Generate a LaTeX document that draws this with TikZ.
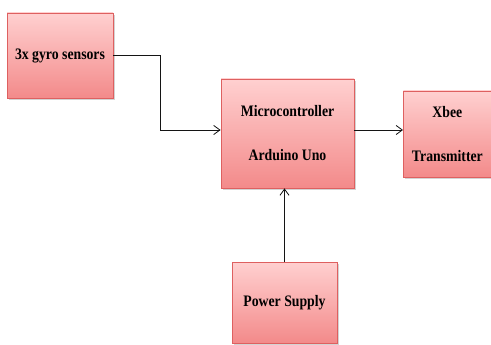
\documentclass[tikz,border=0pt]{standalone}
\usepackage{fontspec}
\setmainfont{Liberation Serif}
\usepackage{graphicx}
\usepackage{tikz}
\usetikzlibrary{
  arrows.meta,
  positioning,
  shadows
}
\definecolor{boxtop}{RGB}{255, 208, 208}
\definecolor{boxbottom}{RGB}{243, 138, 138}
\definecolor{boxborder}{RGB}{222, 96, 96}
\definecolor{linecolor}{RGB}{20, 20, 20}
\newcommand{\slimtext}[1]{\scalebox{0.86}[1]{#1}}
\tikzset{
blocktext/.style={
  align=center,
  font=\bfseries\fontsize{16}{16}\selectfont,
  text=black
},
block/.style={
  draw=boxborder,
  line width=0.8pt,
  top color=boxtop,
  bottom color=boxbottom,
  drop shadow={shadow xshift=1.5pt, shadow yshift=-2pt, opacity=0.35},
  inner sep=0pt,
  blocktext
},
arrow/.style={
  -{Straight Barb[length=2.2mm,width=3.2mm]},
  line width=0.8pt,
  draw=linecolor
}
}

\begin{document}
\begin{tikzpicture}[x=1pt, y=-1pt]
  \useasboundingbox (0,0) rectangle (491,345);

  % Blocks
  \node[block, minimum width=106pt, minimum height=85pt] (gyro) at (60,55.5)
    {\slimtext{3x gyro sensors}};
  \node[block, minimum width=133pt, minimum height=109pt] (mcu) at (287.5,133.5)
    {\slimtext{Microcontroller}\\[28pt]\slimtext{Arduino Uno}};
  \node[block, minimum width=88pt, minimum height=86pt, anchor=west] (xbee) at (403,134)
    {\slimtext{Xbee}\\[28pt]\slimtext{Transmitter}};
  \node[block, minimum width=105pt, minimum height=81pt] (power) at (284.5,302.5)
    {\slimtext{Power Supply}};

  % Connectors
  \coordinate (bend) at (160,55.5);
  \draw[arrow] (gyro.east) -- (bend) |- (mcu.west |- 0,130);
  \draw[arrow] (mcu.east |- 0,130) -- (xbee.west |- 0,130);
  \draw[arrow] (power.north) -- (power.north |- mcu.south);
\end{tikzpicture}
\end{document}
